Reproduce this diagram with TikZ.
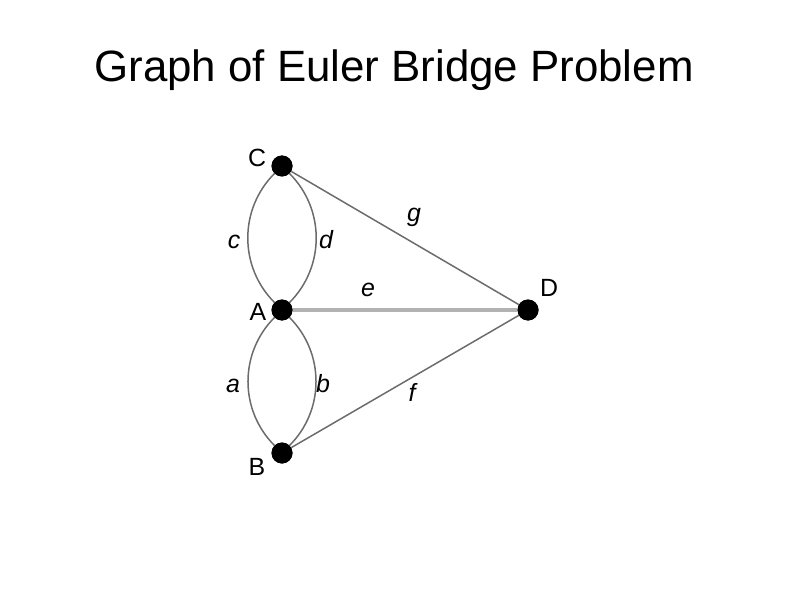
\documentclass[tikz,border=0pt]{standalone}
\usepackage{fontspec}
\setmainfont{Liberation Sans}
\usetikzlibrary{calc}

\begin{document}
\begin{tikzpicture}[x=1bp,y=-1bp,
	dot/.style={circle,fill=black,inner sep=0pt,minimum size=21bp},
	edge/.style={draw=gray!85!black,line width=1.5bp},
	bridge/.style={draw=gray!60,line width=3.5bp},
	lbl/.style={anchor=base,font=\fontsize{25}{28}\selectfont},
	elbl/.style={anchor=base,font=\fontsize{25}{28}\selectfont\itshape}]
\useasboundingbox (0,0) rectangle (794,595);
\node[anchor=base,font=\fontsize{44}{52}\selectfont] (title) at (394,82) {Graph of Euler Bridge Problem};
\node[dot] (C) at (282,166) {};
\node[dot] (A) at (282,310) {};
\node[dot] (B) at (282,453) {};
\node[dot] (D) at (528,310) {};
\draw[edge] (C) to[bend right=45] (A);
\draw[edge] (C) to[bend left=45] (A);
\draw[edge] (A) to[bend right=45] (B);
\draw[edge] (A) to[bend left=45] (B);
\draw[edge] (C) -- (D);
\draw[edge] (B) -- (D);
\draw[bridge] (A) -- (D);
\foreach \p in {A,B,C,D}
	\node[dot] at (\p) {};
\node[lbl] (lC) at (257,167) {C};
\node[lbl] (lA) at (258,320) {A};
\node[lbl] (lB) at (257,475) {B};
\node[lbl] (lD) at (549,296) {D};
\node[elbl] (lc) at (234,248) {c};
\node[elbl] (ld) at (326,248) {d};
\node[elbl] (lg) at (414,222) {g};
\node[elbl] (le) at (368,296) {e};
\node[elbl] (la) at (233,392) {a};
\node[elbl] (lb) at (323,392) {b};
\node[elbl] (lf) at (412,401) {f};
\end{tikzpicture}
\end{document}
